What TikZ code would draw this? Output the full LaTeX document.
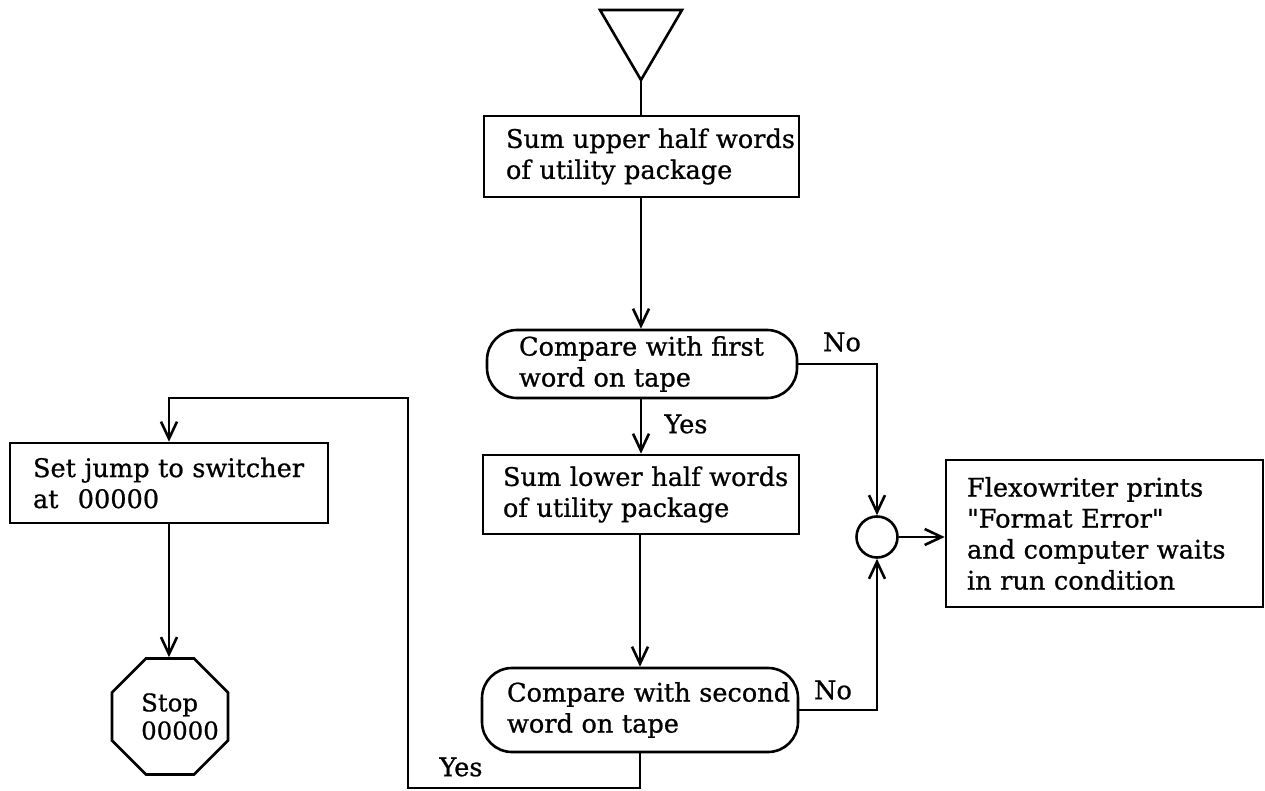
\documentclass[tikz,border=0pt]{standalone}
\usepackage{fontspec}
\setmainfont{DejaVu Serif}[Ligatures=TeXOff, FakeBold=0.8]
\usetikzlibrary{arrows.meta,shapes.geometric}
\hyphenpenalty=10000
\exhyphenpenalty=10000
\begin{document}
\begin{tikzpicture}[x=0.5pt,y=-0.5pt,line width=1.3pt,
  every node/.style={font=\fontsize{12.8}{15.5}\selectfont, inner ysep=0pt},
  proc/.style={draw, rectangle, align=left},
  test/.style={draw, rectangle, rounded corners=15pt, align=left},
  merge/.style={draw, circle, minimum size=20.5pt, inner sep=0pt},
  halt/.style={draw, regular polygon, regular polygon sides=8, minimum size=62.8pt,
    inner sep=0pt},
  flow/.style={-{Straight Barb[length=8.5pt,width=8pt]}},
  tag/.style={inner sep=0pt}]
\useasboundingbox (0,0) rectangle (1265,791);

% entry connector
\coordinate (tl) at (600,10);
\coordinate (tr) at (682,10);
\coordinate (entry) at (641,80);
\draw (tl) -- (tr) -- (entry) -- cycle;
\coordinate (spine) at (640,0);

% main column
\node[proc, minimum height=40.5pt, inner xsep=11pt, text width=135.5pt]
  (sumhi) at (641.5,156.5) {\mbox{Sum upper half words}\\\mbox{of utility package}};
\node[test, minimum height=34pt, inner xsep=16pt, text width=123pt]
  (cmp1) at (642,364) {\mbox{Compare with first}\\\mbox{word on tape}};
\node[proc, minimum height=39.5pt, inner xsep=10pt, text width=138pt]
  (sumlo) at (641,494.5) {\mbox{Sum lower half words}\\\mbox{of utility package}};
\node[test, minimum height=42pt, inner xsep=12.5pt, text width=133pt]
  (cmp2) at (640,710) {\mbox{Compare with second}\\\mbox{word on tape}};

% error exit
\node[merge] (join) at (877,537) {};
\node[proc, minimum height=73.5pt, inner xsep=10.5pt, text width=137.5pt]
  (flex) at (1104.5,533.5)
  {\mbox{Flexowriter prints}\\\mbox{"Format Error"}\\\mbox{and computer waits}\\\mbox{in run condition}};

% normal exit
\node[proc, minimum height=40pt, inner xsep=11.5pt, text width=136pt]
  (setj) at (169,483) {\mbox{Set jump to switcher}\\\mbox{at\hspace{0.75em}00000}};
\node[halt, label={[align=left, inner sep=0pt, xshift=5pt,
    font=\fontsize{12.2}{14}\selectfont]center:Stop\\00000}]
  (stop) at (170,716.5) {};

% branch labels
\node[tag] (no1) at (842,342) {No};
\node[tag] (yes1) at (686,424) {Yes};
\node[tag] (no2) at (833,690) {No};
\node[tag] (yes2) at (461,767) {Yes};

% connectors
\draw (entry) -- (entry |- sumhi.north);
\draw[flow] (sumhi.south -| entry) -- (cmp1.north -| entry);
\draw[flow] (cmp1.south -| entry) -- (sumlo.north -| entry);
\draw[flow] (sumlo.south -| spine) -- (cmp2.north -| spine);
\draw[flow] (cmp1.east) -| (join.north);
\draw[flow] (cmp2.east) -| (join.south);
\draw[flow] (join.east) -- (join.east -| flex.west);
\coordinate (yb) at (640,788);
\coordinate (yt) at (408,398);
\draw[flow] (cmp2.south -| spine) -- (yb) -| (yt) -| (setj.north);
\draw[flow] (setj.south) -- (setj.south |- stop.north);
\end{tikzpicture}
\end{document}
